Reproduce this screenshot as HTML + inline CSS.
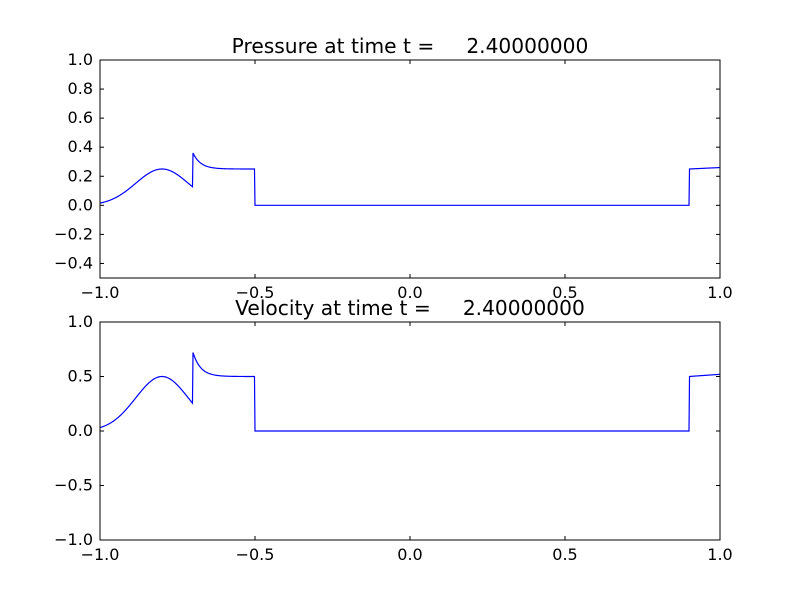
<!DOCTYPE html>
<html><head><meta charset="utf-8"><style>
body{margin:0;background:#fff;}
svg{display:block;font-family:"DejaVu Sans","Liberation Sans",sans-serif;}
</style></head><body>
<svg id="s" width="800" height="600" xmlns="http://www.w3.org/2000/svg">
<rect width="800" height="600" fill="#fff"/>
</svg>
<script>
const s=document.getElementById('s');const NS='http://www.w3.org/2000/svg';
function el(t,a,txt){const e=document.createElementNS(NS,t);for(const k in a)e.setAttribute(k,a[k]);if(txt!==undefined)e.textContent=txt;s.appendChild(e);return e;}
function p(x){
 if(x<-0.7) return 0.25*Math.exp(-Math.pow((x+0.8)/0.12,2));
 if(x<-0.5) return 0.25+0.11*Math.exp(-(x+0.7)/0.025);
 if(x<0.9) return 0;
 return 0.25+0.01*(x-0.9)/0.1;
}
function axes(top,bot,ymin,ymax,yt,ylab,title,scale){
 const L=100,R=720;
 const X=x=>L+(x+1)/2*(R-L), Y=y=>bot-(y-ymin)/(ymax-ymin)*(bot-top);
 let d='';const N=1200;
 for(let i=0;i<=N;i++){let x=-1+2*i/N;d+=(i?'L':'M')+X(x).toFixed(2)+' '+Y(p(x)*scale).toFixed(2);}
 el('path',{d:d,fill:'none',stroke:'#0000ff','stroke-width':1.2});
 el('rect',{x:L,y:top,width:R-L,height:bot-top,fill:'none',stroke:'#000','stroke-width':1});
 [-1,-0.5,0,0.5,1].forEach(v=>{const x=X(v);
  el('line',{x1:x,y1:bot,x2:x,y2:bot-4,stroke:'#000'});el('line',{x1:x,y1:top,x2:x,y2:top+4,stroke:'#000'});
  el('text',{x:x,y:bot+20,'font-size':16,'text-anchor':'middle'},v.toFixed(1).replace('-','\u2212'));});
 yt.forEach((v,i)=>{const y=Y(v);
  el('line',{x1:L,y1:y,x2:L+4,y2:y,stroke:'#000'});el('line',{x1:R,y1:y,x2:R-4,y2:y,stroke:'#000'});
  el('text',{x:L-7,y:y+5,'font-size':16,'text-anchor':'end'},ylab[i]);});
 el('text',{x:410,y:top-7,'font-size':20.2,'text-anchor':'middle'},title);
}
const sp='\u00a0\u00a0\u00a0\u00a0\u00a0';
axes(60,278,-0.5,1.0,[-0.4,-0.2,0,0.2,0.4,0.6,0.8,1.0],['\u22120.4','\u22120.2','0.0','0.2','0.4','0.6','0.8','1.0'],'Pressure at time t ='+sp+'2.40000000',1);
axes(322,540,-1,1,[-1,-0.5,0,0.5,1],['\u22121.0','\u22120.5','0.0','0.5','1.0'],'Velocity at time t ='+sp+'2.40000000',2);
</script>
</body></html>
